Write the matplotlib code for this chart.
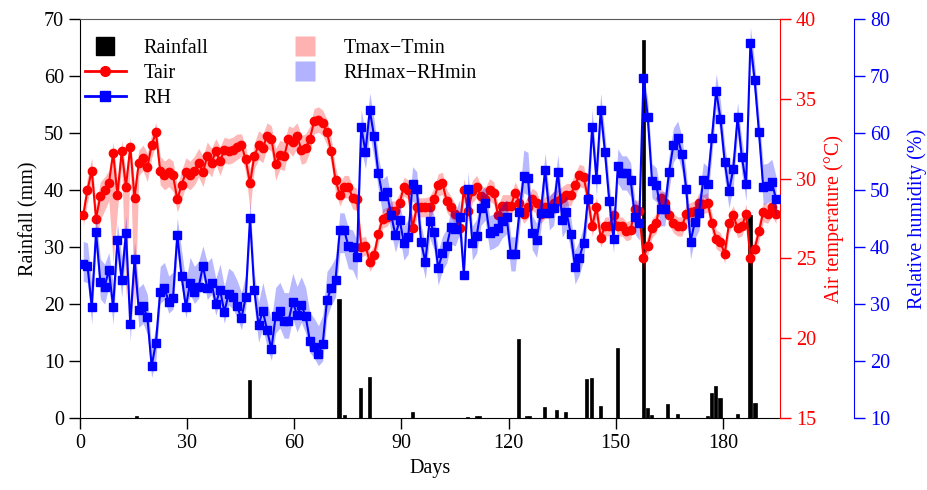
import numpy as np
import matplotlib
matplotlib.use('Agg')
import matplotlib.pyplot as plt
from matplotlib.lines import Line2D

plt.rcParams['font.family'] = ['Liberation Serif', 'DejaVu Serif']
plt.rcParams['font.size'] = 14.5

# daily air temperature (°C)
tair = [27.7, 29.3, 30.5, 27.5, 28.9, 29.3, 29.7, 31.6, 29.0, 31.7, 29.5, 32.0, 28.8, 31.0,
        31.3, 30.7, 32.1, 32.9, 30.5, 30.2, 30.4, 30.2, 28.7, 29.6, 30.4, 30.2, 30.5, 31.0,
        30.4, 31.4, 31.0, 31.7, 31.1, 31.8, 31.7, 31.8, 32.0, 32.1, 31.2, 29.7, 31.4,
        32.1, 31.9, 32.7, 32.5, 30.9, 31.5, 31.4, 32.5, 32.3, 32.7, 31.8, 31.9, 32.5, 33.6,
        33.7, 33.5, 32.9, 31.7, 29.9, 29.0, 29.5, 29.5, 28.8, 28.7, 25.7, 25.8, 24.8, 25.2,
        26.5, 27.5, 27.6, 28.0, 28.0, 28.5, 29.5, 29.3, 26.9, 28.2, 28.2, 28.2,
        28.2, 28.7, 29.6, 29.7, 28.6, 28.2, 27.8, 26.9, 29.3, 28.0, 29.2, 29.5, 28.9, 28.7,
        29.3, 29.1, 27.7, 28.3, 28.3, 28.3, 29.1, 28.5, 27.8, 28.2, 28.7, 28.5, 27.8, 28.2,
        28.2, 28.5, 28.6, 28.8, 29.0, 29.0, 29.6, 30.2, 30.1, 28.8, 27.0, 28.2, 26.3, 27.0,
        27.0, 27.7, 27.0, 27.0, 26.7, 26.8, 28.1, 28.0, 25.0, 25.8, 26.9, 27.2, 28.8, 28.5,
        27.7, 27.2, 27.0, 27.0, 27.8, 27.9, 28.0, 28.5, 28.4, 28.5, 27.2, 26.2, 26.0, 25.3,
        27.2, 27.7, 26.9, 27.0, 27.8, 25.0, 25.6, 26.7, 27.9, 27.8, 28.2, 27.8]

# Tmax - Tair and Tair - Tmin
t_up = [0.7, 0.8, 0.8, 0.8, 0.9, 0.8, 0.8, 0.7, 0.9, 0.7, 0.9, 0.6, 0.9, 0.8,
        0.8, 0.9, 0.7, 0.6, 0.9, 0.9, 0.9, 0.9, 0.8, 0.9, 0.9, 0.9, 0.9, 0.9,
        1.0, 0.9, 0.9, 0.8, 0.9, 0.8, 0.8, 0.8, 0.8, 0.7, 0.8, 0.9, 0.8,
        0.9, 0.9, 0.8, 0.8, 1.0, 0.9, 0.9, 0.8, 0.9, 0.8, 0.9, 0.9, 0.8, 0.8,
        0.8, 0.8, 0.8, 0.8, 0.8, 0.7, 0.7, 0.7, 0.7, 0.7, 0.6, 0.6, 0.6, 0.6,
        0.6, 0.6, 0.6, 0.6, 0.6, 0.6, 0.6, 0.6, 0.7, 0.6, 0.6, 0.6,
        0.7, 0.7, 0.7, 0.7, 0.7, 0.7, 0.6, 0.7, 0.7, 0.7, 0.7, 0.7, 0.7, 0.7,
        0.7, 0.7, 0.6, 0.7, 0.7, 0.7, 0.7, 0.7, 0.6, 0.7, 0.7, 0.7, 0.6, 0.7,
        0.7, 0.7, 0.7, 0.7, 0.7, 0.7, 0.7, 0.7, 0.7, 0.7, 0.6, 0.7, 0.6, 0.6,
        0.6, 0.6, 0.6, 0.6, 0.6, 0.6, 0.6, 0.6, 0.7, 0.6, 0.6, 0.6, 0.6, 0.6,
        0.6, 0.6, 0.6, 0.6, 0.6, 0.6, 0.6, 0.6, 0.6, 0.6, 0.6, 0.6, 0.6, 0.6,
        0.6, 0.6, 0.6, 0.6, 0.6, 0.6, 0.6, 0.6, 0.6, 0.6, 0.6, 0.6]
t_dn = [0.7, 0.8, 0.8, 1.3, 1.5, 1.3, 1.1, 6.9, 1.0, 0.9, 7.1, 0.8, 7.7, 0.8,
        0.8, 0.9, 0.8, 0.8, 0.9, 0.9, 0.9, 1.0, 0.8, 0.9, 0.9, 0.9, 0.9, 0.9,
        0.9, 0.9, 0.9, 0.8, 0.9, 0.8, 0.8, 0.8, 0.8, 0.7, 0.8, 1.7, 0.8,
        0.9, 0.9, 0.8, 0.8, 1.0, 0.9, 0.9, 0.8, 0.9, 0.8, 0.9, 0.9, 0.8, 0.8,
        0.8, 0.8, 0.8, 0.8, 0.8, 0.7, 0.7, 0.7, 0.7, 0.7, 0.6, 0.6, 0.6, 0.6,
        0.6, 0.6, 0.6, 0.6, 0.6, 0.6, 0.6, 0.6, 0.7, 0.6, 0.6, 0.6,
        0.7, 0.7, 0.7, 0.7, 0.7, 0.7, 0.6, 0.7, 0.7, 0.7, 0.7, 0.7, 0.7, 0.7,
        0.7, 0.7, 0.6, 0.7, 0.7, 0.7, 0.7, 0.7, 0.6, 0.7, 0.7, 0.7, 0.6, 0.7,
        0.7, 0.7, 0.7, 0.7, 0.7, 0.7, 0.7, 0.7, 0.7, 0.7, 0.6, 0.7, 0.6, 0.6,
        0.6, 0.6, 0.6, 0.6, 0.6, 0.6, 0.6, 0.6, 0.7, 0.6, 0.6, 0.6, 0.6, 0.6,
        0.6, 0.6, 0.6, 0.6, 0.6, 0.6, 0.6, 0.6, 0.6, 0.6, 0.6, 0.6, 0.6, 0.6,
        0.6, 0.6, 0.6, 0.6, 0.6, 0.6, 0.6, 0.6, 0.6, 0.6, 0.6, 0.6]

# daily relative humidity (%)
rh = [37.0, 36.7, 29.5, 42.6, 33.9, 33.0, 36.0, 29.5, 41.2, 34.2, 42.5, 26.5, 37.9, 28.9,
      29.6, 27.7, 19.1, 23.2, 32.1, 32.8, 30.4, 31.1, 42.1, 34.9, 29.5, 33.7, 32.1, 33.0,
      36.7, 32.8, 33.7, 30.0, 32.5, 28.6, 31.8, 31.2, 29.6, 27.5, 31.2, 45.1, 32.5,
      26.3, 28.8, 25.4, 22.1, 27.9, 28.8, 27.0, 27.0, 30.4, 28.1, 29.8, 27.9, 23.5, 22.5,
      21.2, 23.0, 30.7, 32.8, 34.2, 43.0, 43.0, 40.2, 40.0, 38.2, 61.1, 56.7, 64.0, 59.5,
      53.0, 48.9, 49.6, 45.6, 42.1, 44.7, 40.7, 41.8, 51.1, 50.2, 40.9, 37.4,
      44.6, 42.6, 36.3, 38.9, 40.2, 43.5, 43.2, 45.3, 35.1, 50.2, 40.7, 41.9, 46.8, 47.7,
      42.5, 42.8, 43.3, 44.6, 45.3, 38.8, 38.8, 46.1, 52.5, 52.1, 42.5, 41.2, 46.0, 53.5,
      46.0, 46.8, 53.2, 44.7, 46.1, 42.3, 36.5, 38.1, 40.7, 48.4, 61.1, 51.9, 64.0, 56.7,
      48.1, 41.4, 54.2, 53.0, 53.0, 51.8, 45.3, 44.2, 69.6, 62.8, 51.6, 50.9, 46.7, 46.7,
      53.2, 57.9, 59.1, 56.3, 50.2, 40.9, 44.4, 46.0, 51.8, 51.1, 59.1, 67.4, 62.5, 54.9,
      49.8, 53.7, 62.8, 55.8, 51.1, 75.8, 69.3, 60.2, 50.5, 50.7, 51.4, 48.4]

# RHmax - RH and RH - RHmin
rh_up = [4, 4, 4, 3, 4, 4, 3, 4, 3, 4, 3, 4, 3, 4,
         4, 4, 3, 3, 4.5, 4.5, 4.5, 4.5, 3, 4.5, 4.5, 4.5, 4.5, 4.5,
         3.5, 4.5, 4.5, 4.5, 4.5, 4.5, 4.5, 4.5, 4.5, 4.5, 4, 3, 3,
         4, 5, 5, 5, 5, 5, 5, 5, 5, 5, 5, 5, 5, 5,
         5, 5, 5, 4, 4, 3, 3, 3, 3, 3, 3, 3, 3, 3,
         3, 3, 3, 3, 3, 3, 3, 3, 3, 3, 3, 3,
         3, 3, 3, 3, 3, 3, 3, 3, 3, 3, 3, 3, 3, 3,
         3, 3, 3, 3, 3, 3, 3, 3, 4.5, 4.5, 3, 3, 3, 3,
         3, 3, 3, 3, 3, 3, 3, 3, 3, 3, 3, 3, 3, 3,
         3, 3, 3, 3, 3, 3, 3, 3, 1, 3, 3, 3, 3, 3,
         3, 3, 3, 3, 3, 3, 3, 3, 3, 3, 3, 3, 3, 3,
         3, 3, 2.6, 3, 3, 2.8, 3, 3, 4, 4, 4, 4]
rh_dn = [3, 3, 3, 3, 3, 3, 3, 3, 3, 3, 3, 3, 3, 3,
         3, 3, 2, 3, 2, 2, 2, 2, 3, 2, 2, 2, 2, 2,
         2, 2, 2, 2, 2, 2, 2, 2, 2, 2, 2, 3, 3,
         3, 3, 3, 2, 3, 3, 3, 3, 3, 3, 3, 3, 2, 2,
         2, 3, 3, 3, 3, 4, 4, 4, 4, 4, 4, 3, 4, 4,
         3, 3, 3, 3, 3, 3, 3, 3, 3, 3, 3, 3,
         3, 3, 3, 3, 3, 3, 3, 3, 1, 3, 3, 3, 3, 3,
         3, 3, 3, 3, 3, 3, 3, 3, 3, 3, 3, 3, 3, 3,
         3, 3, 3, 3, 3, 3, 3, 3, 3, 3, 3, 3, 3, 3,
         3, 2.4, 3, 3, 3, 3, 3, 3, 3, 3, 3, 3, 3, 3,
         3, 3, 3, 3, 3, 3, 3, 3, 3, 3, 3, 3, 3, 3,
         3, 3, 3, 3, 3, 3, 3, 3, 3, 3, 3, 3]

# rainfall events (day, mm)
rain_day = [15.8, 47.4, 72.5, 74.1, 78.6, 81.1, 93.0, 108.5, 111.1, 111.9, 122.8, 125.1,
            125.9, 130.1, 133.5, 136.0, 141.8, 143.2, 145.7, 150.5, 157.7, 158.8, 160.0,
            164.6, 167.4, 175.8, 176.8, 178.0, 179.2, 184.1, 187.6, 189.0]
rain_mm = [0.3, 6.7, 20.8, 0.5, 5.2, 7.2, 1.0, 0.2, 0.4, 0.4, 13.8, 0.3,
           0.3, 2.0, 1.4, 1.0, 6.8, 7.0, 2.1, 12.3, 66.3, 1.8, 0.6,
           2.4, 0.7, 0.4, 4.4, 5.6, 3.5, 0.7, 35.6, 2.6]

days = np.linspace(0.9, 194.9, len(tair))
tair = np.array(tair)
rh = np.array(rh)
tmax = tair + np.array(t_up)
tmin = tair - np.array(t_dn)
rhmax = rh + np.array(rh_up)
rhmin = rh - np.array(rh_dn)

fig = plt.figure(figsize=(9.28, 4.9), dpi=100)
ax = fig.add_axes([0.0862, 0.1469, 0.7543, 0.8143])

ax.bar(rain_day, rain_mm, width=0.9, color='black', edgecolor='black', lw=0.5)
ax.set_xlim(0, 196)
ax.set_ylim(0, 70)
ax.set_xticks(np.arange(0, 181, 30))
ax.set_yticks(np.arange(0, 71, 10))
ax.set_xlabel('Days')
ax.set_ylabel('Rainfall (mm)')
ax.tick_params(direction='out', length=8, width=1)
ax.spines['right'].set_visible(False)
ax.spines['top'].set_color('0.35')

ax2 = ax.twinx()
ax2.fill_between(days, tmin, tmax, color='red', alpha=0.28, lw=0)
ax2.plot(days, tair, '-o', color='red', ms=6, lw=1.5)
ax2.set_ylim(15, 40)
ax2.set_yticks(np.arange(15, 41, 5))
ax2.set_ylabel('Air temperature (°C)', color='red', labelpad=6)
ax2.tick_params(axis='y', colors='red', direction='out', length=8, width=1)
ax2.spines['right'].set_color('red')
for s in ['left', 'top', 'bottom']:
    ax2.spines[s].set_visible(False)

ax3 = ax.twinx()
ax3.fill_between(days, rhmin, rhmax, color='blue', alpha=0.28, lw=0)
ax3.plot(days, rh, '-s', color='blue', ms=6, lw=1.5)
ax3.set_ylim(10, 80)
ax3.set_yticks(np.arange(10, 81, 10))
ax3.set_ylabel('Relative humidity (%)', color='blue', labelpad=12)
ax3.tick_params(axis='y', colors='blue', direction='out', length=8, width=1)
ax3.spines['right'].set_position(('outward', 53.3))
ax3.spines['right'].set_color('blue')
for s in ['left', 'top', 'bottom']:
    ax3.spines[s].set_visible(False)

handles = [
    Line2D([], [], ls='none', marker='s', ms=13, mfc='black', mec='black'),
    Line2D([], [], color='red', marker='o', ms=7, lw=2),
    Line2D([], [], color='blue', marker='s', ms=7, lw=2),
    Line2D([], [], ls='none', marker='s', ms=15, mfc='red', mec='none', alpha=0.3),
    Line2D([], [], ls='none', marker='s', ms=15, mfc='blue', mec='none', alpha=0.3),
]
labels = ['Rainfall', 'Tair', 'RH', 'Tmax\u2212Tmin', 'RHmax\u2212RHmin']
ax3.legend(handles, labels, ncol=2, loc='upper left', bbox_to_anchor=(-0.004, 0.97),
           frameon=False, handlelength=2.0, handletextpad=0.9, columnspacing=3.8,
           labelspacing=0.3, borderaxespad=0.2, borderpad=0.2)

fig.savefig('out.png', dpi=100)
